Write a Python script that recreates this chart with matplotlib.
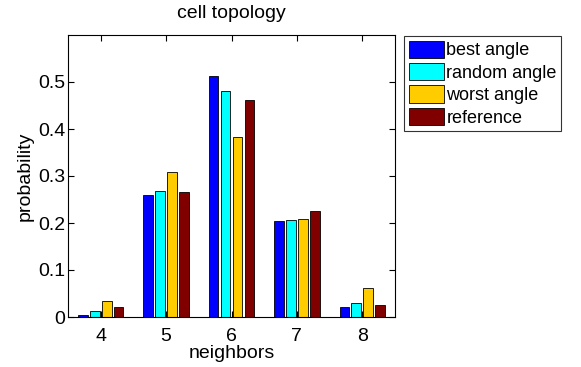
import numpy as np
import matplotlib.pyplot as plt

plt.rcParams["font.family"] = ["Liberation Sans", "DejaVu Sans"]

neighbors = [4, 5, 6, 7, 8]
series_names = ["best angle", "random angle", "worst angle", "reference"]
best_angle = [0.004, 0.259, 0.512, 0.205, 0.021]
random_angle = [0.013, 0.269, 0.480, 0.206, 0.030]
worst_angle = [0.033, 0.309, 0.382, 0.209, 0.062]
reference = [0.021, 0.266, 0.462, 0.226, 0.026]
colors = ["#0000ff", "#00ffff", "#ffcc00", "#800000"]

fig = plt.figure(figsize=(5.81, 3.67), dpi=100)
ax = fig.add_axes([68 / 581, 1 - 317 / 367, 327 / 581, 282 / 367])

x = np.array(neighbors, dtype=float)
step = 0.183
width = 0.148
all_series = [best_angle, random_angle, worst_angle, reference]
for i, (vals, name, c) in enumerate(zip(all_series, series_names, colors)):
    ax.bar(x + (i - 1.5) * step, vals, width=width, color=c,
           edgecolor="black", linewidth=0.6, label=name)

ax.set_xlim(3.5, 8.5)
ax.set_ylim(0, 0.6)
ax.set_xticks(neighbors)
ax.set_yticks([0, 0.1, 0.2, 0.3, 0.4, 0.5])
ax.set_yticklabels(["0", "0.1", "0.2", "0.3", "0.4", "0.5"])
ax.tick_params(direction="in", top=True, right=True, labelsize=14, length=4, width=0.8)
ax.tick_params(axis="y", pad=2)
ax.tick_params(axis="x", pad=8)
for s in ax.spines.values():
    s.set_linewidth(0.8)

ax.set_title("cell topology", fontsize=14, pad=12)
ax.set_xlabel("neighbors", fontsize=14, labelpad=0)
ax.set_ylabel("probability", fontsize=14, labelpad=3)

leg = ax.legend(loc="upper left", bbox_to_anchor=(404 / 581, 1 - 36 / 367),
                bbox_transform=fig.transFigure, fontsize=13, frameon=True,
                fancybox=False, edgecolor="black", borderpad=0.25,
                handlelength=1.95, handleheight=1.1, handletextpad=0.15,
                labelspacing=0.2, borderaxespad=0)
leg.get_frame().set_linewidth(0.8)

fig.savefig("out.png", dpi=100)
